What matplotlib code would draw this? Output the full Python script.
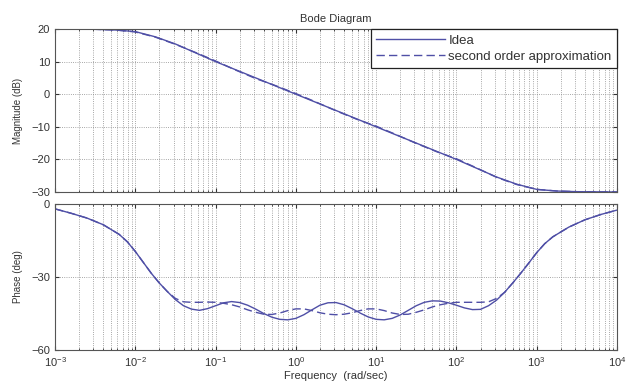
import numpy as np
import matplotlib
matplotlib.use('Agg')
import matplotlib.pyplot as plt
from matplotlib.ticker import LogLocator, NullFormatter

# log10 of frequency (rad/sec) for the magnitude readings
mag_logw = [-3.0, -2.5, -2.25, -2.0, -1.75, -1.5, -1.25, -1.0, -0.75, -0.5, -0.25,
            0.0, 0.25, 0.5, 0.75, 1.0, 1.25, 1.5, 1.75, 2.0, 2.25, 2.5, 2.75,
            3.0, 3.25, 3.5, 4.0]
mag_idea = [20.0, 19.9, 19.7, 19.2, 17.6, 15.4, 12.7, 10.0, 7.5, 5.0, 2.5,
            0.0, -2.5, -5.0, -7.5, -10.0, -12.5, -15.0, -17.5, -20.0, -22.7, -25.4, -27.6,
            -29.2, -29.7, -29.9, -30.0]
mag_approx = [20.0, 19.9, 19.7, 19.1, 17.5, 15.3, 12.8, 10.2, 7.4, 4.8, 2.6,
              0.2, -2.4, -5.1, -7.6, -9.8, -12.4, -15.1, -17.6, -19.8, -22.6, -25.5, -27.7,
              -29.2, -29.7, -29.9, -30.0]

# log10 of frequency for the phase readings
ph_logw = [-3.0, -2.8, -2.6, -2.4, -2.2, -2.1, -2.0, -1.9, -1.8, -1.7, -1.6, -1.5,
           -1.4, -1.3, -1.2, -1.1, -1.0, -0.9, -0.8, -0.7, -0.6, -0.5, -0.4, -0.3,
           -0.2, -0.1, 0.0, 0.1, 0.2, 0.3, 0.4, 0.5, 0.6, 0.7, 0.8, 0.9, 1.0, 1.1,
           1.2, 1.3, 1.4, 1.5, 1.6, 1.7, 1.8, 1.9, 2.0, 2.1, 2.2, 2.3, 2.4, 2.5,
           2.6, 2.7, 2.8, 2.9, 3.0, 3.1, 3.2, 3.4, 3.6, 3.8, 4.0]
ph_idea = [-2.0, -3.8, -5.8, -8.5, -12.5, -15.5, -19.5, -24.0, -28.5, -32.5, -36.0, -39.3,
           -41.8, -43.2, -43.7, -43.0, -41.8, -40.6, -40.1, -40.5, -41.6, -43.2, -45.0, -46.5,
           -47.4, -47.6, -47.0, -45.5, -43.5, -41.6, -40.6, -40.5, -41.4, -43.0, -44.8, -46.4, -47.4, -47.6,
           -47.0, -45.6, -43.7, -41.8, -40.4, -39.8, -39.9, -40.6, -41.6, -42.7, -43.4, -43.3, -41.8, -39.5,
           -36.3, -32.5, -28.5, -24.3, -20.0, -16.3, -13.5, -9.5, -6.5, -4.3, -2.5]
ph_approx = [-2.0, -3.8, -5.8, -8.5, -12.5, -15.5, -19.5, -24.0, -28.5, -32.5, -36.0, -38.8,
             -40.2, -40.4, -40.4, -40.3, -40.4, -40.8, -41.4, -42.3, -43.5, -44.5, -45.3, -45.4,
             -44.8, -43.8, -43.1, -43.1, -43.8, -44.7, -45.3, -45.5, -45.3, -44.7, -43.8, -43.1, -43.1, -43.8,
             -44.8, -45.4, -45.3, -44.5, -43.5, -42.3, -41.4, -40.8, -40.4, -40.4, -40.4, -40.4, -40.2, -38.8,
             -36.3, -32.5, -28.5, -24.3, -20.0, -16.3, -13.5, -9.5, -6.5, -4.3, -2.5]

line_col = '#4f4fa6'
txt_col = '#333333'

plt.rcParams['font.family'] = ['Liberation Sans', 'DejaVu Sans']

fig = plt.figure(figsize=(6.27, 3.92), dpi=100)
ax1 = fig.add_axes([55/627, 1-192/392, 562/627, 163/392])
ax2 = fig.add_axes([55/627, 1-350/392, 562/627, 146/392])

w_mag = 10.0 ** np.array(mag_logw)
w_ph = 10.0 ** np.array(ph_logw)

ax1.semilogx(w_mag, mag_idea, '-', color=line_col, lw=1.0, label='Idea')
ax1.semilogx(w_mag, mag_approx, '--', color=line_col, lw=1.0, dashes=(6, 3),
             label='second order approximation')
ax2.semilogx(w_ph, ph_idea, '-', color=line_col, lw=1.0)
ax2.semilogx(w_ph, ph_approx, '--', color=line_col, lw=1.0, dashes=(6, 3))

for ax in (ax1, ax2):
    ax.set_xlim(1e-3, 1e4)
    ax.xaxis.set_major_locator(LogLocator(base=10, numticks=20))
    ax.xaxis.set_minor_locator(LogLocator(base=10, subs=np.arange(2, 10), numticks=100))
    ax.xaxis.set_minor_formatter(NullFormatter())
    ax.grid(True, which='both', axis='x', color='#8a8a8a', ls=':', lw=0.6)
    ax.grid(True, which='major', axis='y', color='#8a8a8a', ls=':', lw=0.6)
    ax.tick_params(which='both', direction='in', top=True, right=True,
                   labelsize=8, colors=txt_col)
    ax.tick_params(which='major', length=3)
    ax.tick_params(which='minor', length=1.5)
    for s in ax.spines.values():
        s.set_color('#555555')
        s.set_linewidth(0.8)

ax1.set_ylim(-30, 20)
ax1.set_yticks([20, 10, 0, -10, -20, -30])
ax1.tick_params(labelbottom=False)
ax1.set_ylabel('Magnitude (dB)', fontsize=7, color=txt_col, labelpad=6)
ax1.set_title('Bode Diagram', fontsize=8, color=txt_col, pad=5)

ax2.set_ylim(-60, 0)
ax2.set_yticks([0, -30, -60])
ax2.set_ylabel('Phase (deg)', fontsize=7, color=txt_col, labelpad=6)
ax2.set_xlabel('Frequency  (rad/sec)', fontsize=8, color=txt_col, labelpad=2)

leg = ax1.legend(loc='upper right', fontsize=9.5, frameon=True, fancybox=False,
                 borderpad=0.4, handlelength=5.2, labelspacing=0.3,
                 borderaxespad=0.0, handletextpad=0.3)
leg.get_frame().set_edgecolor('#222222')
leg.get_frame().set_linewidth(0.9)
leg.get_frame().set_alpha(1.0)
for t in leg.get_texts():
    t.set_color(txt_col)

fig.savefig('out.png', dpi=100)
